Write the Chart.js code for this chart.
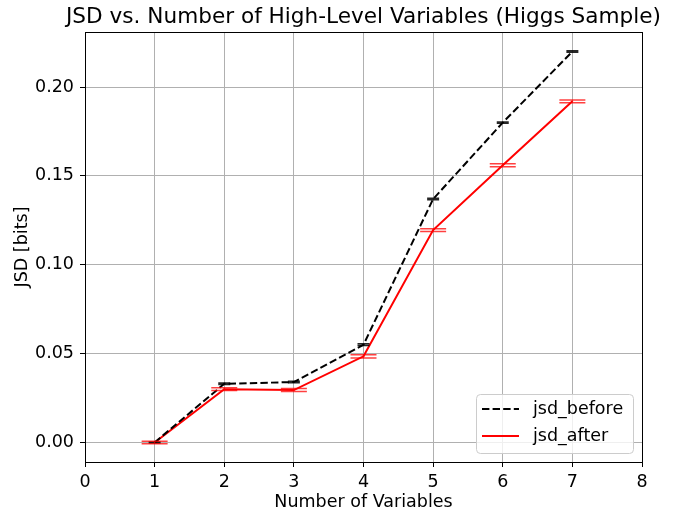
<!DOCTYPE html>
<html>
<head>
<meta charset="utf-8">
<script src="https://cdn.jsdelivr.net/npm/chart.js@4.4.0/dist/chart.umd.min.js"></script>
<style>
  html, body { margin: 0; padding: 0; background: #fff; }
  #wrap { width: 675px; height: 510px; }
</style>
</head>
<body>
<div id="wrap"><canvas id="mycanvas" width="675" height="510"></canvas></div>
<script>
// values
let nVars = [1, 2, 3, 4, 5, 6, 7];
let jsdBefore = [0.000, 0.033, 0.034, 0.055, 0.137, 0.180, 0.220];
let jsdAfter = [0.000, 0.030, 0.0295, 0.0485, 0.1195, 0.156, 0.192];
let errBefore = [0.0003, 0.0004, 0.0004, 0.0005, 0.0004, 0.0004, 0.0004];
let errAfter = [0.0007, 0.0008, 0.0008, 0.0009, 0.0008, 0.0008, 0.0008];
let xTicks = [0, 1, 2, 3, 4, 5, 6, 7, 8];
let yTicks = [0.00, 0.05, 0.10, 0.15, 0.20];
let titleText = 'JSD vs. Number of High-Level Variables (Higgs Sample)';

const FONT = "'DejaVu Sans', sans-serif";
const FS = 17.5;

// error bars, drawn through the chart scales
const errorBars = {
    id: 'errorBars',
    afterDatasetsDraw(chart) {
        const ctx = chart.ctx;
        const xs = chart.scales.x, ys = chart.scales.y;
        chart.data.datasets.forEach(ds => {
            ctx.save();
            ctx.strokeStyle = ds.errColor;
            ctx.lineWidth = 1.5;
            ds.data.forEach((p, i) => {
                const e = ds.errors[i];
                const px = xs.getPixelForValue(p.x);
                const top = ys.getPixelForValue(p.y + e);
                const bot = ys.getPixelForValue(p.y - e);
                const w = ds.capHalf;
                ctx.beginPath();
                ctx.moveTo(px, top); ctx.lineTo(px, bot);
                ctx.moveTo(px - w, top); ctx.lineTo(px + w, top);
                ctx.moveTo(px - w, bot); ctx.lineTo(px + w, bot);
                ctx.stroke();
            });
            ctx.restore();
        });
    }
};

// title over the axes, top/right frame and matplotlib style legend
const frameAndLegend = {
    id: 'frameAndLegend',
    afterDraw(chart) {
        const ctx = chart.ctx;
        const a = chart.chartArea;
        ctx.save();
        ctx.strokeStyle = '#000';
        ctx.lineWidth = 1;
        ctx.strokeRect(Math.round(a.left) + 0.5, Math.round(a.top) + 0.5,
                       Math.round(a.right - a.left), Math.round(a.bottom - a.top));

        ctx.fillStyle = '#000';
        ctx.font = '21.6px ' + FONT;
        ctx.textAlign = 'center';
        ctx.textBaseline = 'middle';
        ctx.fillText(titleText, (a.left + a.right) / 2, a.top - 15);

        // legend box in lower right
        const bw = 157, bh = 59;
        const bx = a.right - 9 - bw, by = a.bottom - 9 - bh;
        ctx.beginPath();
        ctx.roundRect(bx + 0.5, by + 0.5, bw, bh, 4);
        ctx.fillStyle = 'rgba(255,255,255,0.8)';
        ctx.fill();
        ctx.strokeStyle = '#cccccc';
        ctx.stroke();

        ctx.font = FS + 'px ' + FONT;
        ctx.textAlign = 'left';
        chart.data.datasets.forEach((ds, i) => {
            const ly = by + 15 + i * 27;
            ctx.beginPath();
            ctx.strokeStyle = ds.borderColor;
            ctx.lineWidth = ds.borderWidth;
            ctx.setLineDash(ds.borderDash || []);
            ctx.moveTo(bx + 6, ly);
            ctx.lineTo(bx + 43, ly);
            ctx.stroke();
            ctx.setLineDash([]);
            ctx.fillStyle = '#000';
            ctx.fillText(ds.label, bx + 57, ly);
        });
        ctx.restore();
    }
};

let chartdata = {
    datasets: [
        {
            label: 'jsd_before',
            data: nVars.map((v, i) => ({x: v, y: jsdBefore[i]})),
            errors: errBefore,
            errColor: 'rgba(0,0,0,0.85)',
            capHalf: 6,
            borderColor: '#000000',
            borderWidth: 2,
            borderDash: [7.4, 3.2],
            pointRadius: 0,
            fill: false,
            tension: 0
        },
        {
            label: 'jsd_after',
            data: nVars.map((v, i) => ({x: v, y: jsdAfter[i]})),
            errors: errAfter,
            errColor: 'rgba(255,0,0,0.75)',
            capHalf: 13,
            borderColor: '#ff0000',
            borderWidth: 2,
            pointRadius: 0,
            fill: false,
            tension: 0
        }
    ]
};

let ctx = document.getElementById('mycanvas');

let LineGraph = new Chart(ctx, {
    type: 'line',
    data: chartdata,
    plugins: [errorBars, frameAndLegend],
    options: {
        responsive: false,
        animation: false,
        layout: { padding: { left: 0, right: 33, top: 32, bottom: 0 } },
        plugins: {
            legend: { display: false },
            tooltip: { enabled: false },
            title: { display: false }
        },
        scales: {
            x: {
                type: 'linear',
                min: 0,
                max: 8,
                afterBuildTicks: s => { s.ticks = xTicks.map(v => ({value: v})); },
                afterFit: s => { s.height = 48; },
                ticks: {
                    color: '#000',
                    font: { family: FONT, size: FS },
                    padding: 5,
                    maxRotation: 0,
                    callback: v => String(v)
                },
                grid: { color: '#b0b0b0', lineWidth: 1, tickLength: 5, tickColor: '#000' },
                border: { color: '#000', width: 1 },
                title: {
                    display: true,
                    text: 'Number of Variables',
                    color: '#000',
                    font: { family: FONT, size: FS },
                    padding: { top: 0, bottom: -3 }
                }
            },
            y: {
                type: 'linear',
                min: -0.011,
                max: 0.231,
                afterBuildTicks: s => { s.ticks = yTicks.map(v => ({value: v})); },
                afterFit: s => { s.width = 85; },
                ticks: {
                    color: '#000',
                    font: { family: FONT, size: FS },
                    padding: 6,
                    callback: v => v.toFixed(2)
                },
                grid: { color: '#b0b0b0', lineWidth: 1, tickLength: 5, tickColor: '#000' },
                border: { color: '#000', width: 1 },
                title: {
                    display: true,
                    text: 'JSD [bits]',
                    color: '#000',
                    font: { family: FONT, size: FS },
                    padding: { top: 12, bottom: 0 }
                }
            }
        }
    }
});
</script>
</body>
</html>
